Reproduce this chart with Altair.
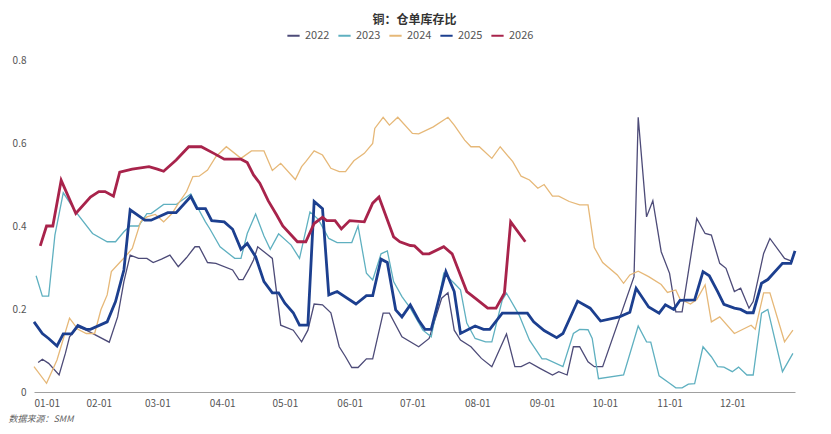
import altair as alt
import pandas as pd

years = ["2022", "2023", "2024", "2025", "2026"]
colors = ["#4d4b78", "#5fb0c0", "#e6b878", "#1c3f8f", "#a8234b"]
widths = [1.3, 1.3, 1.3, 2.8, 2.8]

# day of year offsets (0 = 01-01) and values
d2022 = [2, 4, 7, 12, 15, 17, 21, 25, 36, 40, 43, 46, 50, 54, 57, 61, 65, 69, 73, 77, 79, 83, 87, 95, 98, 100,
         103, 105, 107, 110, 114, 118, 124, 128, 131, 134, 138, 142, 146, 149, 152, 155, 159, 162, 167, 170, 176,
         184, 189, 195, 198, 201, 204, 209, 214, 219, 226, 230, 233, 237, 242, 248, 251, 255, 258, 261, 265, 268,
         272, 287, 289, 293, 296, 300, 304, 307, 310, 317, 321, 324, 328, 331, 335, 338, 342, 344, 349, 352, 359, 363]
v2022 = [0.071, 0.079, 0.069, 0.041, 0.093, 0.133, 0.157, 0.149, 0.12, 0.181, 0.266, 0.33, 0.322, 0.322, 0.312,
         0.32, 0.33, 0.302, 0.324, 0.35, 0.35, 0.312, 0.31, 0.294, 0.271, 0.271, 0.298, 0.318, 0.35, 0.338, 0.322,
         0.161, 0.149, 0.121, 0.149, 0.212, 0.21, 0.191, 0.109, 0.085, 0.059, 0.059, 0.08, 0.08, 0.19, 0.19, 0.133,
         0.109, 0.129, 0.226, 0.239, 0.149, 0.125, 0.109, 0.081, 0.061, 0.14, 0.061, 0.061, 0.071, 0.057, 0.041,
         0.049, 0.041, 0.109, 0.109, 0.073, 0.061, 0.061, 0.278, 0.662, 0.422, 0.461, 0.338, 0.286, 0.193, 0.193,
         0.418, 0.382, 0.378, 0.31, 0.298, 0.242, 0.25, 0.202, 0.218, 0.334, 0.37, 0.322, 0.314]

d2023 = [1, 4, 7, 10, 14, 20, 28, 35, 39, 43, 46, 50, 54, 56, 62, 68, 75, 78, 82, 84, 89, 96, 99, 102, 106, 110,
         113, 117, 123, 127, 132, 136, 141, 145, 152, 155, 159, 162, 166, 169, 172, 176, 180, 186, 190, 196, 201,
         204, 207, 211, 216, 219, 224, 226, 232, 237, 243, 245, 253, 258, 261, 265, 267, 270, 282, 289, 293, 295,
         299, 304, 307, 310, 313, 316, 320, 324, 327, 330, 334, 337, 341, 344, 348, 351, 358, 363]
v2023 = [0.28, 0.231, 0.231, 0.378, 0.48, 0.434, 0.382, 0.362, 0.362, 0.386, 0.40, 0.40, 0.43, 0.43, 0.452, 0.452,
         0.477, 0.447, 0.41, 0.394, 0.35, 0.322, 0.322, 0.382, 0.429, 0.376, 0.344, 0.381, 0.354, 0.322, 0.434,
         0.416, 0.37, 0.36, 0.36, 0.40, 0.286, 0.27, 0.333, 0.34, 0.266, 0.23, 0.202, 0.149, 0.133, 0.286, 0.262,
         0.246, 0.166, 0.129, 0.121, 0.121, 0.222, 0.238, 0.186, 0.125, 0.08, 0.08, 0.061, 0.141, 0.151, 0.15,
         0.129, 0.032, 0.041, 0.159, 0.121, 0.12, 0.039, 0.021, 0.01, 0.01, 0.019, 0.02, 0.109, 0.085, 0.061,
         0.06, 0.049, 0.06, 0.041, 0.041, 0.19, 0.199, 0.049, 0.093]

d2024 = [0, 6, 11, 17, 21, 25, 29, 32, 35, 37, 41, 44, 47, 51, 54, 58, 62, 66, 69, 73, 76, 79, 83, 87, 92, 99,
         104, 110, 114, 118, 125, 128, 130, 134, 138, 142, 146, 149, 153, 158, 162, 163, 167, 170, 174, 181, 184,
         191, 198, 201, 206, 209, 213, 219, 223, 229, 233, 237, 241, 244, 248, 251, 256, 261, 265, 268, 272, 279,
         282, 285, 289, 294, 300, 303, 307, 309, 314, 317, 321, 324, 328, 335, 343, 345, 349, 352, 359, 363]
v2024 = [0.061, 0.021, 0.077, 0.178, 0.151, 0.141, 0.141, 0.198, 0.234, 0.29, 0.312, 0.328, 0.346, 0.41, 0.422,
         0.428, 0.41, 0.43, 0.454, 0.483, 0.519, 0.52, 0.535, 0.567, 0.591, 0.563, 0.581, 0.581, 0.534, 0.551,
         0.512, 0.543, 0.555, 0.581, 0.571, 0.539, 0.531, 0.531, 0.557, 0.575, 0.599, 0.635, 0.662, 0.643, 0.662,
         0.623, 0.622, 0.639, 0.662, 0.643, 0.607, 0.591, 0.591, 0.563, 0.591, 0.555, 0.52, 0.511, 0.491, 0.50,
         0.472, 0.472, 0.459, 0.451, 0.451, 0.348, 0.312, 0.282, 0.262, 0.282, 0.291, 0.278, 0.259, 0.240, 0.246,
         0.224, 0.212, 0.223, 0.258, 0.169, 0.181, 0.141, 0.161, 0.151, 0.239, 0.239, 0.121, 0.149]

d2025 = [0, 4, 7, 11, 14, 18, 21, 25, 27, 35, 39, 43, 46, 53, 56, 64, 68, 75, 78, 82, 85, 91, 95, 99, 102, 106,
         110, 114, 117, 120, 124, 127, 131, 134, 138, 141, 145, 154, 159, 162, 166, 169, 173, 176, 180, 184, 187,
         190, 197, 201, 204, 211, 215, 218, 224, 236, 239, 244, 250, 253, 260, 266, 271, 280, 285, 288, 294, 299,
         302, 306, 309, 316, 320, 323, 327, 330, 335, 338, 341, 344, 348, 351, 358, 362, 364]
v2025 = [0.169, 0.141, 0.129, 0.111, 0.14, 0.14, 0.16, 0.151, 0.151, 0.169, 0.218, 0.294, 0.439, 0.414, 0.414,
         0.432, 0.432, 0.471, 0.442, 0.442, 0.413, 0.41, 0.392, 0.344, 0.358, 0.326, 0.266, 0.239, 0.239, 0.214,
         0.191, 0.161, 0.161, 0.459, 0.442, 0.234, 0.242, 0.212, 0.232, 0.232, 0.32, 0.312, 0.198, 0.181, 0.21,
         0.173, 0.151, 0.151, 0.29, 0.242, 0.141, 0.159, 0.151, 0.151, 0.19, 0.19, 0.169, 0.148, 0.131, 0.141,
         0.219, 0.202, 0.171, 0.181, 0.192, 0.25, 0.205, 0.19, 0.21, 0.199, 0.221, 0.222, 0.29, 0.28, 0.242,
         0.211, 0.202, 0.199, 0.191, 0.191, 0.262, 0.271, 0.31, 0.31, 0.34]

d2026 = [3, 6, 9, 13, 20, 27, 31, 34, 38, 41, 47, 55, 59, 62, 68, 74, 80, 86, 91, 99, 102, 105, 108, 112, 116,
         119, 126, 130, 134, 138, 140, 144, 147, 151, 158, 162, 165, 172, 175, 180, 182, 186, 189, 196, 200, 207,
         211, 217, 221, 225, 228, 235]
v2026 = [0.352, 0.40, 0.40, 0.51, 0.43, 0.47, 0.483, 0.483, 0.472, 0.53, 0.537, 0.543, 0.537, 0.532, 0.559,
         0.591, 0.591, 0.575, 0.561, 0.561, 0.553, 0.523, 0.503, 0.461, 0.427, 0.40, 0.362, 0.362, 0.406, 0.421,
         0.413, 0.413, 0.393, 0.413, 0.41, 0.455, 0.47, 0.374, 0.362, 0.353, 0.352, 0.333, 0.333, 0.35, 0.333,
         0.242, 0.226, 0.202, 0.202, 0.238, 0.41, 0.362]

series = [("2022", d2022, v2022), ("2023", d2023, v2023), ("2024", d2024, v2024),
          ("2025", d2025, v2025), ("2026", d2026, v2026)]

base = pd.Timestamp("2001-01-01")
rows = []
for (name, ds, vs), w in zip(series, widths):
    for d, v in zip(ds, vs):
        rows.append({"year": name,
                     "date": (base + pd.Timedelta(days=d)).strftime("%Y-%m-%dT00:00:00"),
                     "value": v,
                     "w": w})
df = pd.DataFrame(rows)

FONT = "Noto Sans CJK SC"

chart = alt.Chart(df).mark_line(interpolate="linear").encode(
    x=alt.X("date:T",
            scale=alt.Scale(domain=[alt.DateTime(year=2001, month=1, date=1),
                                    alt.DateTime(year=2001, month=12, date=31)]),
            axis=alt.Axis(format="%m-%d", tickCount={"interval": "month", "step": 1},
                          labelFlush=True, ticks=False, tickSize=0, labelPadding=6, grid=False,
                          domainColor="#a0a0a0", labelColor="#555555", labelFontSize=10,
                          labelOverlap=False,
                          title="数据来源：SMM", titleAnchor="start", titleAlign="left",
                          titleX=-26, titleY=22, titleFontStyle="italic", titleFontWeight="normal",
                          titleFontSize=9, titleColor="#666666")),
    y=alt.Y("value:Q", scale=alt.Scale(domain=[0, 0.8], nice=False),
            axis=alt.Axis(values=[0, 0.2, 0.4, 0.6, 0.8], format=".1~f", grid=False, domain=False,
                          ticks=False, tickSize=0, labelPadding=8, title=None,
                          labelColor="#555555", labelFontSize=10)),
    color=alt.Color("year:N", scale=alt.Scale(domain=years, range=colors),
                    legend=alt.Legend(title=None, orient="none", legendX=252, legendY=-32,
                                      direction="horizontal", symbolType="stroke", symbolSize=150,
                                      symbolStrokeWidth=2, labelFontSize=11, labelColor="#555555",
                                      columnPadding=4)),
    strokeWidth=alt.StrokeWidth("w:Q", scale=None, legend=None),
).properties(
    width=761, height=332,
    title=alt.TitleParams("铜：仓单库存比", anchor="middle", fontSize=12, fontWeight="bold",
                          color="#333333", offset=1, font=FONT),
    autosize=alt.AutoSizeParams(type="none"),
    padding={"left": 26, "top": 52, "right": 20, "bottom": 34},
).configure(font=FONT).configure_view(stroke=None)

chart.save("out.html", embed_options={"renderer": "svg", "actions": False})
